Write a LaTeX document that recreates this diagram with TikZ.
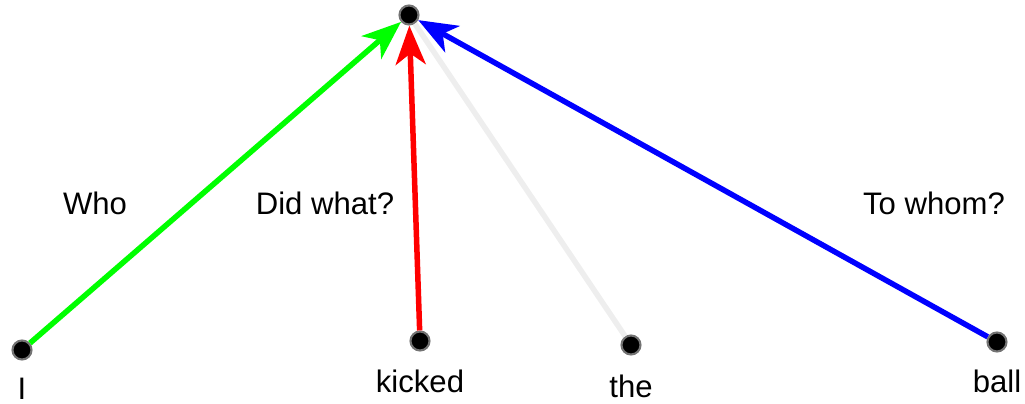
\documentclass[tikz,border=0pt]{standalone}
\usepackage{fontspec}
\setmainfont{Liberation Sans}
\usepackage{tikz}
\usetikzlibrary{arrows.meta,positioning}
\definecolor{cWho}{HTML}{00FF00}
\definecolor{cWhat}{HTML}{FF0000}
\definecolor{cWhom}{HTML}{0000FF}
\definecolor{cSkip}{HTML}{EEEEEE}
\tikzset{
  dot/.style={circle, fill=black, draw=black!55, line width=1.2pt,
              minimum size=0.38cm, inner sep=0pt},
  word/.style={font=\fontsize{17.7}{21}\selectfont, anchor=base, inner sep=0pt},
  role/.style={word, anchor=base},
  link/.style={line width=0.11cm},
  arr/.style={link, -{Stealth[length=0.78cm, width=0.6cm, inset=0.22cm]}}
}

\begin{document}
\begin{tikzpicture}[x=0.02cm, y=-0.02cm]
\useasboundingbox (0,0) rectangle (1025,404);
% head and the words
\node[dot] (head) at (409,15) {};
\node[dot] (i) at (22,350) {};
\node[dot] (kicked) at (420,341) {};
\node[dot] (the) at (631,345) {};
\node[dot] (ball) at (997,342) {};
\node[word] (wI) at (22,400) {I};
\node[word] (wKicked) at (420,393) {kicked};
\node[word] (wThe) at (631,398) {the};
\node[word] (wBall) at (997,393) {ball};
% role labels
\node[role] (who) at (95,215) {Who};
\node[role] (what) at (325,215) {Did what?};
\node[role] (whom) at (934,215) {To whom?};
% links
\draw[link, cSkip] (the) -- (head);
\draw[arr, cWho] (i) -- (head);
\draw[arr, cWhat] (kicked) -- (head);
\draw[arr, cWhom] (ball) -- (head);
\end{tikzpicture}
\end{document}
